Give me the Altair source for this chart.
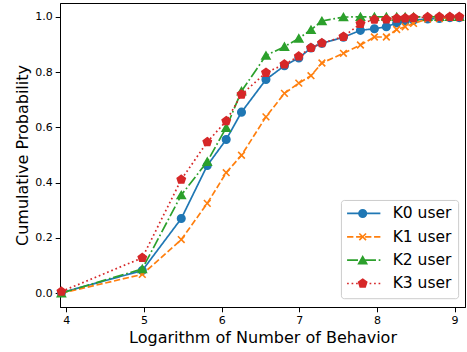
import altair as alt
import pandas as pd

# ---- data ----
x_vals = [3.936, 4.978, 5.480, 5.815, 6.059, 6.256, 6.571, 6.809, 6.994, 7.151, 7.292,
          7.569, 7.788, 7.968, 8.122, 8.255, 8.364, 8.472, 8.654, 8.805, 8.940, 9.062]

k0 = [0.002, 0.082, 0.270, 0.462, 0.556, 0.655, 0.773, 0.823, 0.851, 0.887, 0.904,
      0.926, 0.951, 0.957, 0.964, 0.978, 0.984, 0.988, 0.992, 0.994, 0.997, 0.997]
k1 = [0.000, 0.068, 0.194, 0.325, 0.436, 0.499, 0.638, 0.723, 0.760, 0.787, 0.833,
      0.868, 0.898, 0.927, 0.927, 0.954, 0.964, 0.976, 0.992, 0.994, 0.997, 0.997]
k2 = [0.000, 0.088, 0.355, 0.476, 0.599, 0.731, 0.860, 0.892, 0.922, 0.953, 0.985,
      0.999, 1.000, 1.000, 1.000, 1.000, 1.000, 1.000, 1.000, 1.000, 1.000, 1.000]
k3 = [0.006, 0.128, 0.411, 0.547, 0.623, 0.719, 0.798, 0.828, 0.857, 0.888, 0.905,
      0.928, 0.975, 0.990, 0.991, 0.994, 0.995, 0.997, 0.999, 1.000, 1.000, 1.000]

series_names = ["K0 user", "K1 user", "K2 user", "K3 user"]
series_vals = [k0, k1, k2, k3]
colors = ["#1f77b4", "#ff7f0e", "#2ca02c", "#d62728"]
dashes = [[1, 0], [6.3, 2.7], [10.9, 2.7, 1.7, 2.7], [1.7, 2.8]]
PENTAGON = "M0,-1L0.951,-0.309L0.588,0.809L-0.588,0.809L-0.951,-0.309Z"
XMARK = "M-0.8,-0.8L0.8,0.8M-0.8,0.8L0.8,-0.8"
shapes = ["circle", XMARK, "triangle-up", PENTAGON]
sizes = [56, 70, 64, 72]

x_ticks = [4, 5, 6, 7, 8, 9]
y_ticks = [0.0, 0.2, 0.4, 0.6, 0.8, 1.0]

x_domain = [3.918, 9.135]
y_domain = [-0.05, 1.05]

# legend placement in data coordinates
leg_box = {"x": 7.543, "x2": 9.053, "y": -0.020, "y2": 0.3355}
leg_rows = [0.2885, 0.204, 0.1194, 0.0351]
leg_line_x = [7.616, 8.045]
leg_marker_x = 7.817
leg_text_x = 8.203

FONT = "DejaVu Sans"

xs = alt.Scale(domain=x_domain, nice=False, zero=False)
ys = alt.Scale(domain=y_domain, nice=False, zero=False)

x_axis = alt.Axis(values=x_ticks, format="d", title="Logarithm of Number of Behavior",
                  grid=False, tickSize=4.8, labelPadding=3, titlePadding=4,
                  labelFontSize=11, titleFontSize=16, titleFontWeight="normal")
y_axis = alt.Axis(values=y_ticks, format=".1f", title="Cumulative Probability",
                  grid=False, tickSize=4.8, labelPadding=3, titlePadding=4,
                  labelFontSize=11, titleFontSize=16, titleFontWeight="normal")


def X(field="x"):
    return alt.X(f"{field}:Q", scale=xs, axis=x_axis)


def Y(field="y"):
    return alt.Y(f"{field}:Q", scale=ys, axis=y_axis)


layers = []
for i, (name, vals) in enumerate(zip(series_names, series_vals)):
    df = pd.DataFrame({"x": x_vals, "y": vals, "series": name})
    base = alt.Chart(df)
    line = base.mark_line(color=colors[i], strokeWidth=1.7, strokeDash=dashes[i]).encode(
        x=X(), y=Y())
    pts = base.mark_point(shape=shapes[i], size=sizes[i], filled=(i != 1),
                          color=colors[i], fill=colors[i], stroke=colors[i],
                          strokeWidth=1.6, opacity=1).encode(x=X(), y=Y())
    layers += [line, pts]

# legend
box_df = pd.DataFrame([leg_box])
box = alt.Chart(box_df).mark_rect(fill="white", fillOpacity=0.8, stroke="#cccccc",
                                  strokeWidth=1, cornerRadius=3).encode(
    x=X(), x2="x2:Q", y=Y(), y2="y2:Q")
layers.append(box)
for i, name in enumerate(series_names):
    ldf = pd.DataFrame({"x": [leg_line_x[0], leg_line_x[1]], "y": [leg_rows[i]] * 2})
    layers.append(alt.Chart(ldf).mark_line(color=colors[i], strokeWidth=1.7,
                                           strokeDash=dashes[i]).encode(x=X(), y=Y()))
    pdf = pd.DataFrame({"x": [leg_marker_x], "y": [leg_rows[i]]})
    layers.append(alt.Chart(pdf).mark_point(shape=shapes[i], size=sizes[i], filled=(i != 1),
                                            color=colors[i], fill=colors[i], stroke=colors[i],
                                            strokeWidth=1.6, opacity=1).encode(x=X(), y=Y()))
    tdf = pd.DataFrame({"x": [leg_text_x], "y": [leg_rows[i]], "t": [name]})
    layers.append(alt.Chart(tdf).mark_text(align="left", baseline="middle", fontSize=15.5,
                                           font=FONT, color="black").encode(
        x=X(), y=Y(), text="t:N"))

chart = alt.layer(*layers).properties(
    width=405, height=304,
    background="white",
    autosize=alt.AutoSizeParams(type="none"),
    padding={"left": 60, "top": 3, "right": 2, "bottom": 45},
).configure_view(stroke="black", strokeWidth=1).configure_axis(
    labelFont=FONT, titleFont=FONT, labelColor="black", titleColor="black",
    domainColor="black", tickColor="black", domainWidth=1, tickWidth=1
)

chart.save("out.html", embed_options={"renderer": "svg", "actions": False})
